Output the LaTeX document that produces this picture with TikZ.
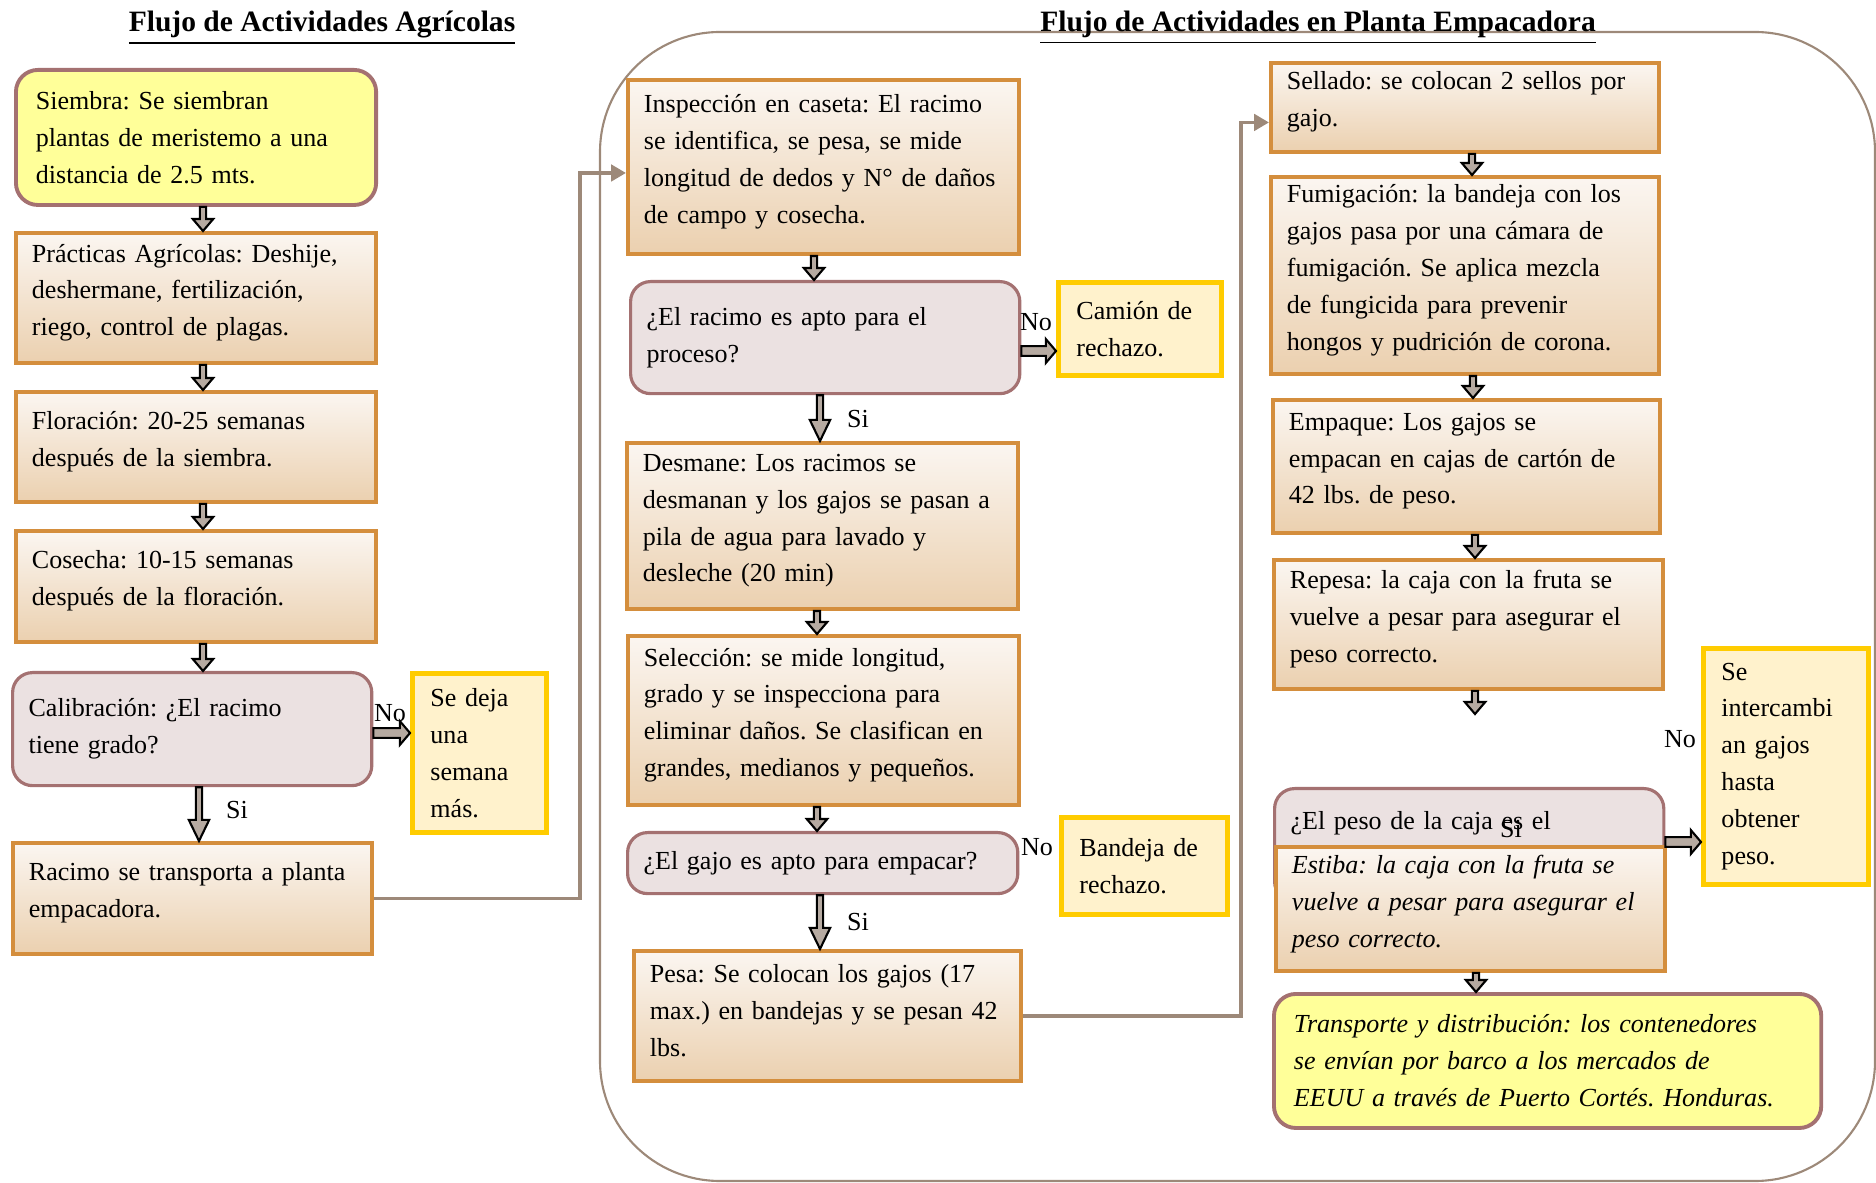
\documentclass[tikz,border=0pt]{standalone}
\usepackage{fontspec}
\setmainfont{Liberation Serif}
\usetikzlibrary{calc, arrows.meta}

\definecolor{boxline}{HTML}{D48E3D}
\definecolor{gradtop}{HTML}{FBF6F1}
\definecolor{gradbot}{HTML}{EBD0AF}
\definecolor{askfill}{HTML}{EBE1E1}
\definecolor{askline}{HTML}{A47171}
\definecolor{lemon}{HTML}{FFFF99}
\definecolor{creamfill}{HTML}{FFF2CC}
\definecolor{goldline}{HTML}{FFCC00}
\definecolor{arrowfill}{HTML}{B6AAA1}
\definecolor{linkline}{HTML}{9D8979}

% block arrows: vertical (head length, x, from, to) and horizontal (y, from, to)
\newcommand{\vblock}[4][3.4pt]{%
  \draw[blockarrow] let \p0=(#2,0), \p1=(#3), \p2=(#4) in
    (\x0-0.9pt,\y1) -- (\x0-0.9pt,\y2+#1) -- (\x0-2.9pt,\y2+#1) -- (\x0,\y2)
    -- (\x0+2.9pt,\y2+#1) -- (\x0+0.9pt,\y2+#1) -- (\x0+0.9pt,\y1) -- cycle;}
\newcommand{\hblock}[3]{%
  \draw[blockarrow] let \p0=(0,#1), \p1=(#2), \p2=(#3) in
    (\x1,\y0+1.4pt) -- (\x2-2.9pt,\y0+1.4pt) -- (\x2-2.9pt,\y0+3.4pt) -- (\x2,\y0)
    -- (\x2-2.9pt,\y0-3.4pt) -- (\x2-2.9pt,\y0-1.4pt) -- (\x1,\y0-1.4pt) -- cycle;}

\begin{document}
\frenchspacing
\begin{tikzpicture}[x=0.01cm, y=-0.01cm,
    every node/.style={font=\fontsize{7.4}{10.5}\selectfont},
    stage/.style={anchor=north west, align=left, draw=boxline, line width=1.1pt,
      top color=gradtop, bottom color=gradbot, inner xsep=0.16cm, inner ysep=0.05cm,
      execute at end node=\vspace{3pt}},
    ask/.style={anchor=north west, align=left, draw=askline, line width=0.9pt,
      fill=askfill, rounded corners=0.2cm, inner xsep=0.16cm, inner ysep=0.05cm},
    lemonbox/.style={anchor=north west, align=left, draw=askline, line width=1.1pt,
      fill=lemon, rounded corners=0.22cm, inner xsep=0.2cm, inner ysep=0.05cm},
    reject/.style={anchor=north west, align=left, draw=goldline, line width=1.4pt,
      fill=creamfill, inner xsep=0.18cm, inner ysep=0.05cm},
    slanted/.style={font=\fontsize{7.4}{10.5}\selectfont\itshape},
    blockarrow/.style={draw=black, line width=0.6pt, fill=arrowfill, line join=miter},
    link/.style={draw=linkline, line width=1.1pt, -{Triangle[length=4.2pt, width=4.6pt]}},
    frame/.style={draw=linkline, line width=0.6pt, rounded corners=1.2cm},
    title/.style={font=\fontsize{8.4}{10}\selectfont\bfseries},
    answer/.style={inner sep=0pt}
  ]
  \useasboundingbox (0,0) rectangle (1876,1183);
  % Packing plant frame
  \draw[frame] (600,32) rectangle (1875,1181);
  % Titles
  \node[title] (agrotitle) at (322,28) {\underline{Flujo de Actividades Agrícolas}};
  \node[title] (plantatitle) at (1318,28) {\underline{Flujo de Actividades en Planta Empacadora}};

  % Agricultural column
  \node[lemonbox, text width=3.2cm, minimum height=1.35cm] (siembra) at (14,68)
    {Siembra: Se siembran\\plantas de meristemo a una\\distancia de 2.5 mts.};
  \node[stage, text width=3.28cm, minimum height=1.3cm] (practicas) at (14,231)
    {Prácticas Agrícolas: Deshije,\\deshermane, fertilización,\\riego, control de plagas.};
  \node[stage, text width=3.28cm, minimum height=1.1cm] (floracion) at (14,390)
    {Floración: 20-25 semanas\\después de la siembra.};
  \node[stage, text width=3.28cm, minimum height=1.11cm] (cosecha) at (14,529)
    {Cosecha: 10-15 semanas\\después de la floración.};
  \node[ask, text width=3.27cm, minimum height=1.13cm] (calibracion) at (11,671)
    {Calibración: ¿El racimo\\tiene grado?};
  \node[stage, text width=3.27cm, minimum height=1.11cm] (racimo) at (11,841)
    {Racimo se transporta a planta\\empacadora.};
  \node[reject, text width=0.98cm, minimum height=1.59cm] (sedeja) at (410,671)
    {Se deja\\una\\semana\\más.};

  % Packing plant, first column
  \node[stage, text width=3.59cm, minimum height=1.74cm] (inspeccion) at (626,78)
    {Inspección en caseta: El racimo\\se identifica, se pesa, se mide\\longitud de dedos y N° de daños\\de campo y cosecha.};
  \node[ask, text width=3.57cm, minimum height=1.12cm] (racimoapto) at (629,280)
    {¿El racimo es apto para el\\proceso?};
  \node[reject, text width=1.27cm, minimum height=0.93cm] (camion) at (1056,280)
    {Camión de\\rechazo.};
  \node[stage, text width=3.59cm, minimum height=1.66cm] (desmane) at (625,441)
    {Desmane: Los racimos se\\desmanan y los gajos se pasan a\\pila de agua para lavado y\\desleche (20 min)};
  \node[stage, text width=3.59cm, minimum height=1.69cm] (seleccion) at (626,634)
    {Selección: se mide longitud,\\grado y se inspecciona para\\eliminar daños. Se clasifican en\\grandes, medianos y pequeños.};
  \node[ask, text width=3.58cm, minimum height=0.61cm] (gajoapto) at (626,831)
    {¿El gajo es apto para empacar?};
  \node[reject, text width=1.3cm, minimum height=0.97cm] (bandeja) at (1059,815)
    {Bandeja de\\rechazo.};
  \node[stage, text width=3.55cm, minimum height=1.3cm] (pesa) at (632,949)
    {Pesa: Se colocan los gajos (17\\max.) en bandejas y se pesan 42\\lbs.};

  % Packing plant, second column
  \node[stage, text width=3.56cm, minimum height=0.89cm] (sellado) at (1269,61)
    {Sellado: se colocan 2 sellos por\\gajo.};
  \node[stage, text width=3.56cm, minimum height=1.97cm] (fumigacion) at (1269,175)
    {Fumigación: la bandeja con los\\gajos pasa por una cámara de\\fumigación. Se aplica mezcla\\de fungicida para prevenir\\hongos y pudrición de corona.};
  \node[stage, text width=3.55cm, minimum height=1.33cm] (empaque) at (1271,398)
    {Empaque: Los gajos se\\empacan en cajas de cartón de\\42 lbs. de peso.};
  \node[stage, text width=3.57cm, minimum height=1.29cm] (repesa) at (1272,558)
    {Repesa: la caja con la fruta se\\vuelve a pesar para asegurar el\\peso correcto.};
  \coordinate (repesaend) at (1475,714);
  \node[ask, text width=3.57cm, text height=0.31cm, text depth=0.62cm, inner ysep=0.1cm] (pesocaja) at (1273,787)
    {¿El peso de la caja es el};
  \node[stage, slanted, text width=3.57cm, minimum height=1.24cm] (estiba) at (1274,845)
    {Estiba: la caja con la fruta se\\vuelve a pesar para asegurar el\\peso correcto.};
  \node[reject, text width=1.29cm, minimum height=2.36cm] (intercambian) at (1701,646)
    {Se\\intercambi\\an gajos\\hasta\\obtener\\peso.};
  \node[lemonbox, slanted, text width=5.07cm, minimum height=1.34cm] (transporte) at (1272,992)
    {Transporte y distribución: los contenedores\\se envían por barco a los mercados de\\EEUU a través de Puerto Cortés. Honduras.};

  % Block arrows
  \vblock{203}{siembra.south}{practicas.north}
  \vblock{203}{practicas.south}{floracion.north}
  \vblock{203}{floracion.south}{cosecha.north}
  \vblock{203}{cosecha.south}{calibracion.north}
  \vblock[6pt]{199}{calibracion.south}{racimo.north}
  \hblock{733}{calibracion.east}{sedeja.west}
  \vblock{814}{inspeccion.south}{racimoapto.north}
  \vblock[6pt]{820}{racimoapto.south}{desmane.north}
  \hblock{351}{racimoapto.east}{camion.west}
  \vblock{817}{desmane.south}{seleccion.north}
  \vblock{817}{seleccion.south}{gajoapto.north}
  \vblock[6pt]{820}{gajoapto.south}{pesa.north}
  \vblock{1472}{sellado.south}{fumigacion.north}
  \vblock{1473}{fumigacion.south}{empaque.north}
  \vblock{1475}{empaque.south}{repesa.north}
  \vblock{1475}{repesa.south}{repesaend}
  \vblock{1476}{estiba.south}{transporte.north}
  \hblock{842}{pesocaja.east}{intercambian.west}

  % Links between the two flows
  \draw[link] (racimo.east) -| ($(inspeccion.west)+(-46,6)$) -- ($(inspeccion.west)+(0,6)$);
  \draw[link] (pesa.east) -| ($(sellado.west)+(-28,15)$) -- ($(sellado.west)+(0,15)$);

  % Answers
  \node[answer] (nocalib) at (390,713) {No};
  \node[answer] (sicalib) at (237,810) {Si};
  \node[answer] (noracimo) at (1036,322) {No};
  \node[answer] (siracimo) at (858,419) {Si};
  \node[answer] (nogajo) at (1037,847) {No};
  \node[answer] (sigajo) at (858,922) {Si};
  \node[answer] (nopeso) at (1680,739) {No};
  \node[answer] (sipeso) at (1511,829) {Si};
\end{tikzpicture}
\end{document}
